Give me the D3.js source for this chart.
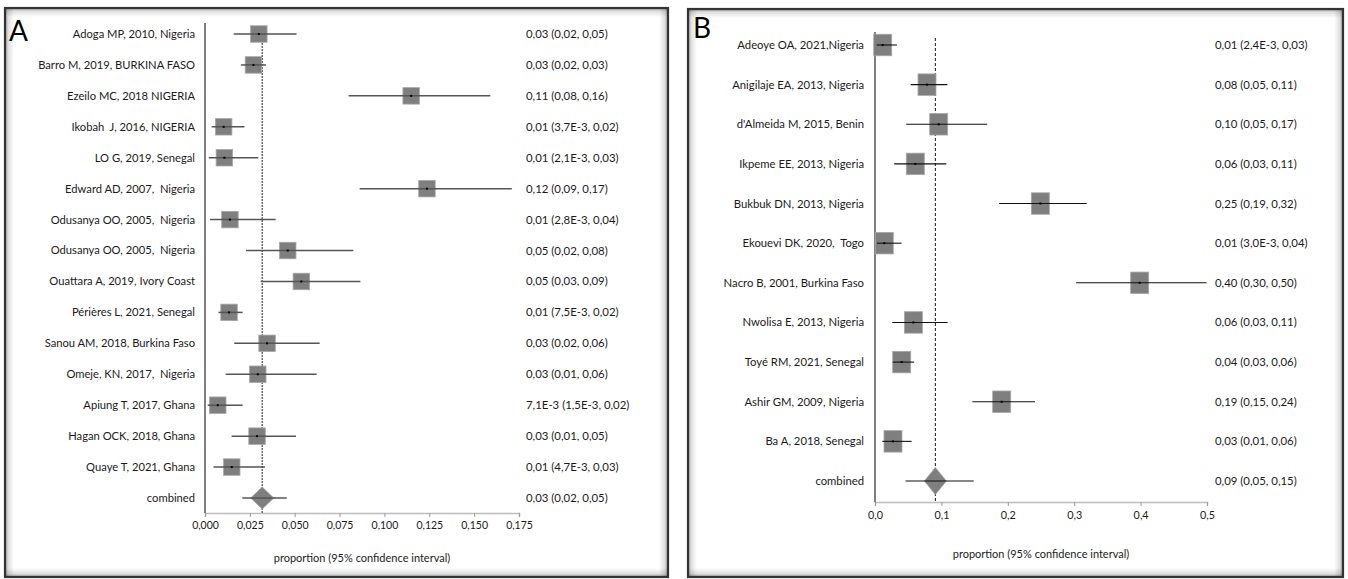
<!DOCTYPE html>
<html>
<head>
<meta charset="utf-8">
<script src="https://cdn.jsdelivr.net/npm/d3@7"></script>
<style>
  body { margin: 0; background: #fff; }
  text { font-family: Lato, "Open Sans", sans-serif; fill: #1a1a1a; white-space: pre; }
</style>
</head>
<body>
<svg id="chart" width="1348" height="579" xmlns="http://www.w3.org/2000/svg"></svg>
<script>
// ---- Panel A: studies, estimates and 95% CI ----
const studiesA = [
  "Adoga MP, 2010, Nigeria",
  "Barro M, 2019, BURKINA FASO",
  "Ezeilo MC, 2018 NIGERIA",
  "Ikobah  J, 2016, NIGERIA",
  "LO G, 2019, Senegal",
  "Edward AD, 2007,  Nigeria",
  "Odusanya OO, 2005,  Nigeria",
  "Odusanya OO, 2005,  Nigeria",
  "Ouattara A, 2019, Ivory Coast",
  "Périères L, 2021, Senegal",
  "Sanou AM, 2018, Burkina Faso",
  "Omeje, KN, 2017,  Nigeria",
  "Apiung T, 2017, Ghana",
  "Hagan OCK, 2018, Ghana",
  "Quaye T, 2021, Ghana"
];
const estA  = [0.030, 0.027, 0.1149, 0.0104, 0.0108, 0.1237, 0.0139, 0.0461, 0.0537, 0.0134, 0.0346, 0.0294, 0.0071, 0.029, 0.0149];
const lowA  = [0.016, 0.020, 0.080, 0.0037, 0.0021, 0.0862, 0.0028, 0.0229, 0.031, 0.0075, 0.0163, 0.0115, 0.0015, 0.0148, 0.0047];
const highA = [0.051, 0.034, 0.159, 0.022, 0.0297, 0.171, 0.0394, 0.0827, 0.0866, 0.021, 0.0639, 0.0622, 0.021, 0.0507, 0.0334];
const combinedA = [0.0319, 0.0208, 0.0456];
const ticksA = [0, 0.025, 0.05, 0.075, 0.1, 0.125, 0.15, 0.175];

// ---- Panel B ----
const studiesB = [
  "Adeoye OA, 2021,Nigeria",
  "Anigilaje EA, 2013, Nigeria",
  "d'Almeida M, 2015, Benin",
  "Ikpeme EE, 2013, Nigeria",
  "Bukbuk DN, 2013, Nigeria",
  "Ekouevi DK, 2020,  Togo",
  "Nacro B, 2001, Burkina Faso",
  "Nwolisa E, 2013, Nigeria",
  "Toyé RM, 2021, Senegal",
  "Ashir GM, 2009, Nigeria",
  "Ba A, 2018, Senegal"
];
const estB  = [0.0116, 0.0783, 0.0959, 0.0607, 0.249, 0.014, 0.3986, 0.0578, 0.0402, 0.1908, 0.0271];
const lowB  = [0.0024, 0.0537, 0.047, 0.029, 0.187, 0.003, 0.303, 0.026, 0.0266, 0.1466, 0.011];
const highB = [0.033, 0.109, 0.169, 0.1074, 0.3188, 0.040, 0.4993, 0.1094, 0.059, 0.241, 0.0552];
const combinedB = [0.0909, 0.046, 0.1486];
const ticksB = [0, 0.1, 0.2, 0.3, 0.4, 0.5];

const combinedLabel = "combined";
const axisTitle = "proportion (95% confidence interval)";

// value formatting with decimal comma; small values in E notation
function fmtVal(v) {
  if (v < 0.00995) {
    const e = Math.floor(Math.log10(v));
    const m = v / Math.pow(10, e);
    return m.toFixed(1).replace(".", ",") + "E" + e;
  }
  return v.toFixed(2).replace(".", ",");
}
const fmtCI = (e, l, h) => `${fmtVal(e)} (${fmtVal(l)}, ${fmtVal(h)})`;

const svg = d3.select("#chart");
const defs = svg.append("defs");

// inner-shadow gradients for the panel frames
[["shL", 0, 0, 1, 0], ["shR", 1, 0, 0, 0], ["shT", 0, 0, 0, 1], ["shB", 0, 1, 0, 0]].forEach(([id, x1, y1, x2, y2]) => {
  const g = defs.append("linearGradient").attr("id", id)
    .attr("x1", x1).attr("y1", y1).attr("x2", x2).attr("y2", y2);
  g.append("stop").attr("offset", 0).attr("stop-color", "#000").attr("stop-opacity", 0.4);
  g.append("stop").attr("offset", 0.35).attr("stop-color", "#000").attr("stop-opacity", 0.13);
  g.append("stop").attr("offset", 1).attr("stop-color", "#000").attr("stop-opacity", 0);
});

function frame(x0, y0, x1, y1) {
  const g = svg.append("g");
  const s = 9;
  g.append("rect").attr("x", x0).attr("y", y0).attr("width", x1 - x0).attr("height", y1 - y0).attr("fill", "#fff");
  g.append("rect").attr("x", x0).attr("y", y0).attr("width", s).attr("height", y1 - y0).attr("fill", "url(#shL)");
  g.append("rect").attr("x", x1 - s).attr("y", y0).attr("width", s).attr("height", y1 - y0).attr("fill", "url(#shR)");
  g.append("rect").attr("x", x0).attr("y", y0).attr("width", x1 - x0).attr("height", s).attr("fill", "url(#shT)");
  g.append("rect").attr("x", x0).attr("y", y1 - s).attr("width", x1 - x0).attr("height", s).attr("fill", "url(#shB)");
  g.append("rect").attr("x", x0).attr("y", y0).attr("width", x1 - x0).attr("height", y1 - y0)
    .attr("fill", "none").attr("stroke", "#333").attr("stroke-width", 2.2);
}

function forest(cfg) {
  const { studies, est, low, high, combined, ticks, tickFmt, letter } = cfg;
  frame(cfg.frame[0], cfg.frame[1], cfg.frame[2], cfg.frame[3]);
  const g = svg.append("g");

  const x = d3.scaleLinear().domain([0, ticks[ticks.length - 1]]).range([cfg.x0, cfg.x1]);
  const rows = d3.range(studies.length + 1);
  const y = d3.scalePoint().domain(rows).range([cfg.yFirst, cfg.yLast]);

  // panel letter
  g.append("text").attr("x", cfg.letterX).attr("y", cfg.letterY)
    .attr("font-size", 28).style("fill", "#000").text(letter);

  // x axis
  const ax = g.append("g").attr("transform", `translate(0,${cfg.axisY})`)
    .call(d3.axisBottom(x).tickValues(ticks).tickFormat(tickFmt).tickSize(4).tickPadding(5));
  ax.select(".domain").attr("stroke", "#bdbdbd").attr("stroke-width", 1.5);
  ax.selectAll(".tick line").attr("stroke", "#9a9a9a");
  ax.selectAll(".tick text").attr("font-size", cfg.tickFont).style("font-family", "Lato, sans-serif").style("fill", "#1a1a1a");

  // y axis line
  g.append("line").attr("x1", cfg.x0).attr("x2", cfg.x0).attr("y1", cfg.yAxisTop).attr("y2", cfg.axisY)
    .attr("stroke", "#555").attr("stroke-width", 1.5);

  // reference line at the pooled estimate
  g.append("line").attr("x1", x(combined[0])).attr("x2", x(combined[0]))
    .attr("y1", cfg.refTop).attr("y2", cfg.axisY)
    .attr("stroke", cfg.refColor).attr("stroke-width", cfg.refWidth).attr("stroke-dasharray", cfg.refDash);

  // study labels
  g.selectAll(".lab").data(studies.concat([combinedLabel])).join("text")
    .attr("x", cfg.labelX).attr("y", (d, i) => y(i)).attr("dy", "0.35em")
    .attr("text-anchor", "end").attr("font-size", cfg.labelFont).text(d => d);

  // estimate text column
  const estText = est.map((e, i) => fmtCI(e, low[i], high[i])).concat([fmtCI(combined[0], combined[1], combined[2])]);
  g.selectAll(".val").data(estText).join("text")
    .attr("x", cfg.valX).attr("y", (d, i) => y(i)).attr("dy", "0.35em")
    .attr("font-size", cfg.valFont).text(d => d);

  // boxes
  const bw = cfg.boxW, bh = cfg.boxH;
  g.selectAll(".box").data(est).join("rect")
    .attr("x", d => x(d) - bw / 2).attr("y", (d, i) => y(i) - bh / 2)
    .attr("width", bw).attr("height", bh)
    .attr("fill", "#7f7f7f").attr("stroke", "#a8a8a8").attr("stroke-width", 0.8);

  // confidence intervals
  g.selectAll(".ci").data(est).join("line")
    .attr("x1", (d, i) => x(low[i])).attr("x2", (d, i) => x(high[i]))
    .attr("y1", (d, i) => y(i)).attr("y2", (d, i) => y(i))
    .attr("stroke", cfg.ciColor).attr("stroke-width", cfg.ciWidth);

  // centre dots
  g.selectAll(".dot").data(est).join("rect")
    .attr("x", d => x(d) - 1).attr("y", (d, i) => y(i) - 1).attr("width", 2).attr("height", 2)
    .attr("fill", "#000");

  // pooled estimate diamond
  const cy = y(studies.length), cx = x(combined[0]);
  const dw = cfg.diaW / 2, dh = cfg.diaH / 2;
  g.append("path")
    .attr("d", `M${cx - dw},${cy}L${cx},${cy - dh}L${cx + dw},${cy}L${cx},${cy + dh}Z`)
    .attr("fill", "#7f7f7f").attr("stroke", "#a0a0a0").attr("stroke-width", 0.8);
  g.append("line").attr("x1", x(combined[1])).attr("x2", x(combined[2])).attr("y1", cy).attr("y2", cy)
    .attr("stroke", cfg.ciColor).attr("stroke-width", cfg.ciWidth);

  // axis title
  g.append("text").attr("x", (cfg.x0 + cfg.x1) / 2).attr("y", cfg.titleY)
    .attr("text-anchor", "middle").attr("font-size", cfg.titleFont).text(axisTitle);
}

forest({
  letter: "A", studies: studiesA, est: estA, low: lowA, high: highA, combined: combinedA,
  ticks: ticksA, tickFmt: d => d.toFixed(3).replace(".", ","),
  frame: [5, 8, 668, 577],
  x0: 205, x1: 519, yFirst: 34, yLast: 498, axisY: 513, yAxisTop: 23, refTop: 34,
  refColor: "#6a6a6a", refWidth: 1.5, refDash: "2,1",
  letterX: 9, letterY: 41,
  labelX: 195, valX: 526, labelFont: 11.2, valFont: 11.4, tickFont: 10.5, titleFont: 11, titleY: 562,
  boxW: 16.5, boxH: 16.5, diaW: 23, diaH: 22, ciColor: "#555", ciWidth: 1.5
});

forest({
  letter: "B", studies: studiesB, est: estB, low: lowB, high: highB, combined: combinedB,
  ticks: ticksB, tickFmt: d => d.toFixed(1).replace(".", ","),
  frame: [688, 9, 1343, 577],
  x0: 875, x1: 1207, yFirst: 45, yLast: 481, axisY: 502, yAxisTop: 32, refTop: 38,
  refColor: "#111", refWidth: 1, refDash: "3,2",
  letterX: 693, letterY: 38,
  labelX: 864, valX: 1215, labelFont: 11.3, valFont: 11.4, tickFont: 10.8, titleFont: 11, titleY: 558,
  boxW: 18, boxH: 21.5, diaW: 22, diaH: 27, ciColor: "#111", ciWidth: 1.1
});
</script>
</body>
</html>
